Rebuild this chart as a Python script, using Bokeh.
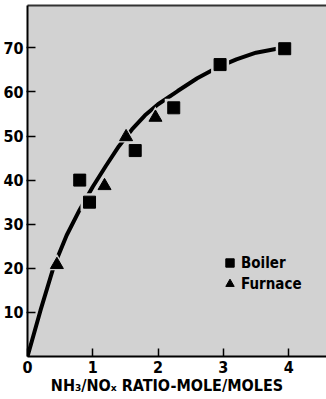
from bokeh.plotting import figure
from bokeh.models import Range1d, FixedTicker, Legend, LegendItem, LinearAxis
from bokeh.embed import file_html
from bokeh.resources import INLINE

# data
boiler_x = [0.80, 0.95, 1.65, 2.24, 2.95, 3.94]
boiler_y = [40.0, 35.0, 46.7, 56.4, 66.2, 69.8]
furnace_x = [0.45, 1.18, 1.51, 1.96]
furnace_y = [20.8, 38.7, 49.8, 54.2]
curve_x = [0, 0.2, 0.4, 0.6, 0.8, 1.0, 1.2, 1.4, 1.6, 1.8, 2.0, 2.3, 2.6, 2.9, 3.2, 3.5, 3.9]
curve_y = [0, 10.5, 20.3, 27.5, 33.3, 38.5, 43.2, 47.7, 51.5, 54.7, 57.2, 60.2, 63.1, 65.5, 67.4, 68.9, 70.0]
x_ticks = [0, 1, 2, 3, 4]
y_ticks = [10, 20, 30, 40, 50, 60, 70]
x_label = "NH\u2083/NO\u2093 RATIO-MOLE/MOLES"

BG = "#d2d2d2"
FONT = "DejaVu Sans Condensed, sans-serif"

p = figure(width=326, height=399, output_backend="svg", toolbar_location=None,
           x_range=Range1d(0, 4.58), y_range=Range1d(0, 79.6),
           min_border_left=24, min_border_right=0, min_border_top=5, min_border_bottom=43)
p.background_fill_color = BG
p.border_fill_color = "white"
p.outline_line_color = None
p.xgrid.visible = False
p.ygrid.visible = False

xa = p.below[0]
ya = p.left[0]

# top border as an unlabeled axis
top = LinearAxis(ticker=FixedTicker(ticks=[]), major_label_text_font_size="0px",
                 major_tick_line_color=None, minor_tick_line_color=None,
                 axis_line_width=2, axis_line_color="#333333")
p.add_layout(top, "above")

p.line(curve_x, curve_y, line_color="black", line_width=4)

# halos around markers (break the curve like the reference)
p.scatter(boiler_x, boiler_y, marker="square", size=18, fill_color=BG, line_color=None)
p.scatter(furnace_x, furnace_y, marker="triangle", size=19, fill_color=BG, line_color=None)
rb = p.scatter(boiler_x, boiler_y, marker="square", size=12, fill_color="black", line_color="black")
rf = p.scatter(furnace_x, furnace_y, marker="triangle", size=13, fill_color="black", line_color="black")

for ax in (xa, ya):
    ax.axis_line_width = 2
    ax.axis_line_color = "black"
    ax.major_tick_line_width = 1.5
    ax.major_tick_line_color = "black"
    ax.minor_tick_line_color = None
    ax.major_label_text_font = FONT
    ax.major_label_text_font_style = "bold"
    ax.major_label_text_font_size = "16px"
    ax.major_label_text_color = "black"

xa.ticker = FixedTicker(ticks=x_ticks)
ya.ticker = FixedTicker(ticks=y_ticks)
xa.major_tick_in = 8
xa.major_tick_out = 0
ya.major_tick_in = 8
ya.major_tick_out = 1
ya.major_label_standoff = 3
xa.major_label_standoff = 4
xa.axis_label = x_label + "\u00a0\u00a0\u00a0\u00a0"
xa.axis_label_text_font = FONT
xa.axis_label_text_font_style = "bold"
xa.axis_label_text_font_size = "16px"
xa.axis_label_text_color = "black"
xa.axis_label_standoff = 0

legend = Legend(items=[LegendItem(label="Boiler", renderers=[rb]),
                       LegendItem(label="Furnace", renderers=[rf])],
                location=(192, 62))
legend.background_fill_alpha = 0
legend.border_line_alpha = 0
legend.padding = 0
legend.margin = 0
legend.spacing = 0
legend.glyph_width = 21
legend.glyph_height = 21
legend.label_standoff = 1
legend.label_text_font = FONT
legend.label_text_font_style = "bold"
legend.label_text_font_size = "15px"
legend.label_text_color = "black"
p.add_layout(legend)

open("out.html", "w").write(file_html(p, INLINE))
